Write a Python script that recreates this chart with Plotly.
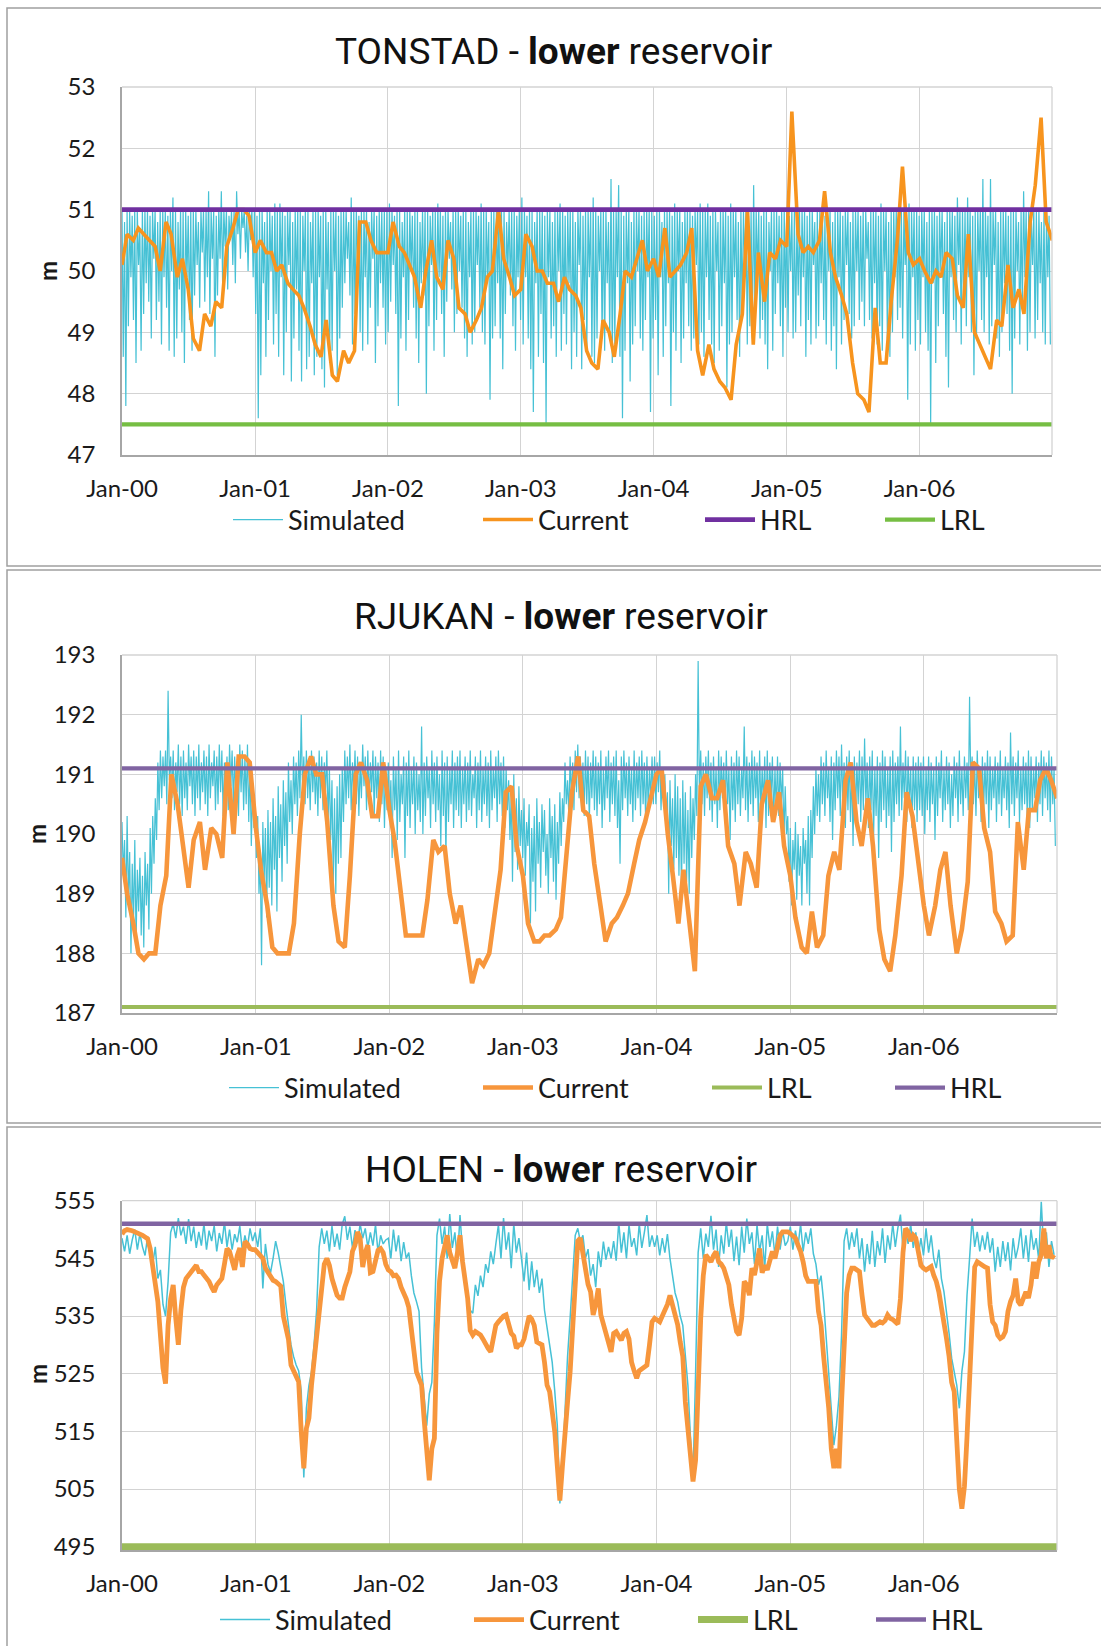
import pandas as pd
import plotly.graph_objects as go

W, H = 1101, 1646

# ------------------------------------------------------------------ data
tick_dates = ['2000-01-01', '2001-01-01', '2002-01-01', '2003-01-01',
              '2004-01-01', '2005-01-01', '2006-01-01']
tick_labels = ['Jan-00', 'Jan-01', 'Jan-02', 'Jan-03', 'Jan-04', 'Jan-05', 'Jan-06']

# TONSTAD - simulated level (m): weekly peak (start of week) and weekly trough (mid-week)
tonstad_sim_peak = [
    51.0, 50.8, 51.0, 51.0, 50.9, 51.0, 51.0, 50.7, 51.0, 51.0, 51.0, 50.9, 51.0, 51.0, 50.8, 51.0, 51.0, 51.0, 50.9, 51.0,
    51.2, 51.0, 50.8, 51.0, 51.0, 51.0, 50.9, 51.0, 51.0, 51.0, 50.8, 51.0, 51.0, 51.0, 51.3, 51.0, 51.0, 50.9, 51.0, 51.3,
    51.0, 51.0, 50.9, 51.0, 51.0, 51.3, 51.0, 51.0, 51.0, 50.9, 51.0, 51.0,
    51.0, 50.9, 51.0, 51.0, 50.8, 51.0, 51.0, 50.9, 51.1, 51.0, 51.1, 51.0, 50.9, 51.0, 51.0, 50.8, 51.0, 51.0, 51.0, 50.9,
    51.0, 51.0, 50.8, 51.0, 51.0, 51.0, 50.9, 51.0, 51.0, 50.8, 51.0, 51.0, 51.0, 50.9, 51.0, 51.0, 51.0, 50.8, 51.2, 51.0,
    51.0, 50.9, 51.0, 51.0, 51.0, 50.8, 51.0, 51.0, 50.9, 51.0, 51.0, 51.0,
    51.0, 51.1, 51.0, 50.9, 51.0, 51.0, 50.8, 51.0, 51.0, 51.0, 50.9, 51.0, 51.0, 50.8, 51.0, 51.0, 51.0, 50.9, 51.0, 51.0,
    51.1, 51.0, 50.9, 51.0, 51.0, 50.8, 51.0, 51.0, 51.0, 50.9, 51.0, 51.0, 50.8, 51.0, 51.0, 51.0, 50.9, 51.1, 51.0, 51.0,
    50.8, 51.0, 51.0, 51.0, 50.9, 51.0, 51.0, 50.8, 51.0, 51.0, 51.0, 50.9,
    51.0, 51.2, 51.0, 50.9, 51.0, 51.0, 50.8, 51.0, 51.0, 51.0, 50.9, 51.0, 51.0, 50.8, 51.0, 51.0, 51.1, 51.0, 50.9, 51.0,
    51.0, 51.0, 50.8, 51.0, 51.0, 50.9, 51.0, 51.0, 51.0, 51.2, 51.0, 50.9, 51.0, 51.0, 51.0, 50.8, 51.5, 51.0, 51.0, 51.4,
    51.0, 50.9, 51.0, 51.0, 50.8, 51.0, 51.0, 51.0, 50.9, 51.0, 51.0, 51.0,
    51.0, 50.9, 51.0, 51.0, 50.8, 51.0, 51.0, 51.0, 50.9, 51.1, 51.0, 51.0, 50.8, 51.0, 51.0, 51.0, 50.9, 51.0, 51.0, 51.1,
    51.0, 51.0, 51.1, 50.9, 51.0, 51.0, 50.8, 51.0, 51.0, 51.0, 50.9, 51.1, 51.0, 51.0, 50.8, 51.0, 51.0, 51.0, 50.9, 51.0,
    51.4, 51.0, 51.0, 50.9, 51.0, 51.0, 50.8, 51.0, 51.0, 51.0, 50.9, 51.0,
    51.0, 51.0, 50.9, 51.0, 51.0, 50.8, 51.0, 51.0, 51.0, 50.9, 51.0, 51.0, 50.8, 51.0, 51.0, 51.0, 50.9, 51.0, 51.0, 50.8,
    51.0, 51.0, 51.0, 50.9, 51.0, 51.0, 50.8, 51.0, 51.0, 51.0, 50.9, 51.0, 51.0, 50.8, 51.0, 51.0, 51.0, 50.9, 51.1, 51.0,
    51.0, 50.8, 51.0, 51.0, 51.0, 50.9, 51.0, 51.0, 50.8, 51.1, 51.0, 51.0,
    51.0, 50.9, 51.0, 51.0, 50.8, 51.0, 51.0, 51.0, 50.9, 51.0, 51.0, 50.8, 51.0, 51.0, 51.0, 50.9, 51.2, 51.0, 51.0, 51.0,
    51.2, 51.0, 50.9, 51.0, 51.0, 51.0, 51.5, 51.0, 50.9, 51.5, 51.0, 51.0, 50.8, 51.0, 51.0, 51.0, 50.9, 51.0, 51.0, 51.0,
    50.8, 51.0, 51.3, 51.0, 51.0, 50.9, 51.0, 51.0, 51.0, 50.8, 51.0, 51.0, 50.9,
]
tonstad_sim_trough = [
    48.6, 47.8, 49.1, 49.9, 49.2, 48.5, 50.1, 48.7, 49.3, 49.8, 49.5, 48.9, 50.2, 49.2, 49.5, 48.8, 49.9, 49.4, 48.7, 50.0,
    48.6, 48.9, 49.7, 49.0, 48.5, 49.9, 49.2, 48.7, 49.6, 50.1, 49.4, 50.3, 49.5, 49.9, 49.3, 50.2, 48.6, 49.6, 50.2, 49.8,
    50.4, 49.7, 50.5, 50.1, 49.8, 50.6, 50.2, 50.7, 50.3, 50.0, 50.5, 49.9,
    49.3, 47.6, 48.3, 49.8, 48.6, 49.2, 50.0, 48.8, 49.3, 48.6, 49.9, 48.3, 49.0, 50.1, 48.2, 48.9, 49.7, 48.7, 48.2, 50.0,
    48.4, 48.6, 49.8, 48.3, 48.6, 49.9, 48.4, 48.1, 49.7, 48.5, 48.7, 50.0, 48.3, 48.9, 49.4, 49.8, 50.2, 49.6, 48.8, 49.3,
    50.1, 49.0, 48.7, 49.9, 48.8, 49.4, 50.2, 48.5, 49.1, 49.8, 49.4, 48.8,
    49.0, 49.5, 50.1, 49.3, 47.8, 48.9, 49.9, 48.7, 49.2, 50.0, 49.4, 48.9, 48.5, 49.8, 49.6, 48.0, 49.1, 50.1, 48.7, 49.2,
    49.9, 49.3, 48.6, 49.5, 50.2, 49.7, 49.0, 49.3, 50.0, 49.4, 48.9, 48.6, 49.9, 48.8, 49.0, 50.1, 49.4, 49.0, 48.8, 49.9,
    47.9, 48.9, 49.1, 49.8, 48.9, 48.4, 49.3, 50.0, 49.6, 49.1, 48.7, 49.9,
    49.2, 48.8, 49.9, 48.9, 48.4, 47.7, 49.8, 48.6, 49.3, 48.5, 47.5, 49.9, 48.9, 49.1, 48.6, 50.0, 48.7, 49.3, 48.8, 49.8,
    48.4, 49.0, 48.6, 50.1, 48.4, 49.2, 48.7, 49.9, 48.6, 48.5, 48.9, 50.0, 48.9, 48.7, 49.8, 48.9, 48.5, 48.8, 49.9, 48.6,
    47.6, 48.7, 49.8, 48.2, 48.8, 49.1, 50.0, 48.9, 48.7, 49.2, 49.9, 47.7,
    48.9, 49.2, 48.3, 49.9, 48.6, 49.1, 49.8, 47.8, 49.0, 48.7, 50.0, 48.5, 48.9, 49.8, 49.1, 48.7, 48.9, 50.1, 48.8, 49.0,
    48.6, 49.9, 49.2, 48.8, 48.5, 50.0, 48.7, 49.1, 49.8, 48.1, 48.8, 49.0, 49.9, 49.2, 48.6, 49.3, 50.1, 48.8, 49.1, 48.9,
    49.4, 49.9, 48.9, 49.2, 48.8, 48.4, 50.0, 48.7, 49.3, 49.8, 49.1, 48.6,
    49.4, 49.0, 50.0, 48.9, 49.0, 49.6, 49.1, 49.9, 48.6, 49.2, 48.8, 50.1, 48.9, 49.1, 49.8, 49.2, 48.8, 50.0, 48.7, 49.1,
    48.4, 49.9, 48.8, 49.2, 50.1, 49.3, 48.9, 49.1, 50.0, 49.2, 49.5, 49.1, 50.2, 49.2, 48.9, 49.8, 48.8, 49.1, 48.7, 50.0,
    48.9, 48.6, 49.0, 49.9, 49.2, 49.4, 48.9, 50.1, 47.9, 48.8, 49.9, 48.7,
    49.2, 48.8, 49.9, 49.0, 48.7, 47.5, 49.8, 48.5, 49.1, 50.0, 49.3, 48.6, 48.1, 49.9, 49.2, 49.0, 50.1, 48.8, 49.5, 49.1,
    49.9, 49.0, 48.3, 48.9, 50.0, 49.2, 49.0, 49.9, 48.8, 49.1, 50.1, 48.9, 48.6, 49.0, 49.8, 49.3, 48.7, 48.0, 48.9, 50.0,
    48.8, 49.4, 49.9, 48.7, 49.0, 50.1, 48.9, 49.2, 49.8, 49.0, 48.8, 49.9, 48.8,
]
# TONSTAD - current operation, 1st and 15th of each month
tonstad_current = [
    50.1, 50.6, 50.5, 50.7, 50.6, 50.5, 50.4, 50.0, 50.8, 50.6, 49.9, 50.2, 49.7, 48.9, 48.7, 49.3, 49.1, 49.5, 49.4, 50.4, 50.7, 51.0, 51.0, 50.9,
    50.3, 50.5, 50.3, 50.3, 50.0, 50.1, 49.8, 49.7, 49.6, 49.4, 49.1, 48.8, 48.6, 49.2, 48.3, 48.2, 48.7, 48.5, 48.7, 50.8, 50.8, 50.5, 50.3, 50.3,
    50.3, 50.8, 50.4, 50.3, 50.1, 49.9, 49.4, 50.0, 50.5, 49.9, 49.7, 50.5, 50.2, 49.4, 49.3, 49.0, 49.2, 49.4, 49.9, 50.0, 51.0, 50.2, 49.9, 49.6,
    49.7, 50.6, 50.4, 50.0, 50.0, 49.8, 49.8, 49.5, 49.9, 49.7, 49.6, 49.4, 48.7, 48.5, 48.4, 49.2, 49.0, 48.6, 49.3, 50.0, 49.9, 50.2, 50.5, 50.0,
    50.2, 49.9, 50.7, 49.9, 50.0, 50.1, 50.3, 50.7, 48.7, 48.3, 48.8, 48.4, 48.2, 48.1, 47.9, 48.8, 49.3, 51.0, 48.8, 50.3, 49.5, 50.3, 50.2, 50.5,
    50.4, 52.6, 50.6, 50.3, 50.4, 50.3, 50.5, 51.3, 50.3, 49.9, 49.6, 49.3, 48.5, 48.0, 47.9, 47.7, 49.4, 48.5, 48.5, 49.5, 50.5, 51.7, 50.3, 50.1,
    50.2, 50.0, 49.8, 50.0, 49.9, 50.3, 50.2, 49.6, 49.4, 50.6, 49.0, 48.8, 48.6, 48.4, 49.2, 49.1, 50.1, 49.4, 49.7, 49.3, 50.8, 51.4, 52.5, 50.8,
    50.5,
]
tonstad_hrl = 51.0
tonstad_lrl = 47.5
tonstad_yticks = [47, 48, 49, 50, 51, 52, 53]

# RJUKAN - simulated level (m): weekly peak and weekly trough
rjukan_sim_peak = [
    190.2, 189.9, 190.3, 189.7, 189.5, 189.9, 189.4, 189.6, 189.3, 189.7, 189.5, 190.1, 190.3, 190.6, 191.2, 191.4, 191.3,
    191.4, 192.4, 191.3, 191.4, 191.2, 191.5, 191.3, 191.4, 191.2, 191.5, 191.3, 191.4, 191.3, 191.5, 191.2, 191.4, 191.3,
    191.5, 191.2, 191.4, 191.3, 191.5, 191.4, 191.2, 191.3, 191.5, 191.4, 191.3, 191.2, 191.5, 191.4, 191.3, 191.5, 191.2, 190.8,
    190.5, 190.3, 189.6, 190.2, 190.1, 190.4, 190.2, 190.6, 190.3, 190.8, 190.5, 190.9, 190.7, 191.2, 190.9, 191.3, 191.2,
    191.4, 192.0, 191.3, 191.4, 191.2, 191.4, 191.3, 191.2, 191.4, 191.3, 191.2, 191.4, 191.1, 190.9, 190.6, 190.8, 191.0,
    191.1, 191.4, 191.3, 191.5, 191.2, 191.4, 191.3, 191.2, 191.5, 191.3, 191.4, 191.2, 191.4, 191.3, 191.2, 191.4, 191.3, 191.1,
    191.2, 190.9, 191.3, 191.1, 191.4, 191.0, 191.3, 191.2, 191.4, 191.1, 191.3, 191.2, 191.0, 191.8, 191.2, 191.3, 191.1,
    191.4, 191.2, 191.3, 191.0, 191.4, 191.2, 191.3, 191.1, 191.4, 191.2, 191.3, 191.4, 191.1, 191.3, 191.2, 191.4, 191.0,
    191.3, 191.2, 191.4, 191.1, 191.3, 191.2, 191.4, 191.1, 191.3, 191.4, 191.2, 191.3, 191.1, 190.9, 190.7, 191.0, 190.6, 190.8,
    190.4, 190.6, 190.2, 190.5, 190.1, 190.3, 190.6, 190.2, 190.5, 190.4, 190.0, 190.6, 190.3, 190.5, 190.2, 190.7, 190.6,
    191.2, 190.9, 191.3, 191.2, 191.4, 191.5, 191.3, 191.2, 191.4, 191.3, 191.2, 191.4, 191.3, 191.2, 191.4, 191.1, 191.3,
    191.4, 191.2, 191.3, 191.4, 190.9, 191.3, 191.4, 191.2, 191.3, 191.1, 191.4, 191.2, 191.3, 191.4, 191.2, 191.3, 191.1, 191.3,
    191.3, 191.2, 191.4, 191.1, 191.0, 190.7, 190.9, 190.6, 191.0, 190.8, 190.6, 190.9, 190.7, 190.4, 190.8, 190.6, 191.0,
    192.9, 191.4, 191.2, 191.3, 191.4, 191.2, 191.3, 191.1, 191.4, 191.3, 191.2, 191.4, 191.1, 191.3, 191.2, 191.4, 191.3,
    191.1, 191.8, 191.3, 191.2, 191.4, 191.3, 191.2, 191.4, 191.1, 191.3, 191.4, 191.2, 191.3, 191.1, 191.3, 191.2, 191.1, 190.8,
    190.3, 190.1, 189.9, 190.2, 190.0, 189.8, 190.1, 189.9, 190.3, 190.4, 190.8, 191.1, 191.0, 191.3, 191.2, 191.4, 191.1,
    191.3, 191.2, 191.4, 191.3, 191.5, 191.2, 191.3, 191.4, 191.1, 191.3, 191.2, 191.4, 191.3, 191.6, 191.2, 191.3, 191.4,
    191.1, 191.3, 191.2, 191.4, 191.3, 191.1, 191.3, 191.4, 191.2, 191.3, 191.8, 191.2, 191.4, 191.3, 191.1, 191.3, 191.2, 191.3,
    191.2, 191.3, 191.1, 191.3, 191.2, 191.1, 191.3, 191.2, 191.4, 191.1, 191.3, 191.2, 191.0, 191.3, 191.2, 191.4, 191.1,
    191.3, 191.2, 192.3, 191.3, 191.2, 191.4, 191.1, 191.3, 191.2, 191.4, 191.3, 191.1, 191.3, 191.2, 191.4, 191.1, 191.3,
    191.2, 191.7, 191.3, 191.2, 191.4, 191.1, 191.3, 191.2, 191.4, 191.3, 191.1, 191.3, 191.2, 191.4, 191.3, 191.2, 191.4, 191.3, 191.1,
]
rjukan_sim_trough = [
    189.3, 188.6, 188.9, 188.0, 188.5, 188.2, 188.7, 188.3, 188.1, 188.8, 188.4, 189.0, 189.5, 189.9, 190.4, 190.6, 190.8,
    190.5, 190.9, 190.6, 190.4, 190.7, 190.5, 190.3, 190.6, 190.4, 190.8, 190.5, 190.3, 190.6, 190.4, 190.7, 190.5, 190.3,
    190.6, 190.8, 190.4, 190.5, 190.7, 190.3, 190.6, 190.4, 190.8, 190.5, 190.6, 190.3, 190.7, 190.4, 190.5, 190.2, 189.8, 190.1,
    189.6, 189.0, 187.8, 189.2, 188.6, 189.1, 188.8, 189.4, 188.7, 189.6, 189.2, 189.8, 189.5, 190.2, 190.0, 190.5, 190.3,
    190.6, 190.7, 190.5, 190.6, 190.4, 190.7, 190.5, 190.3, 190.6, 190.4, 190.7, 190.2, 189.9, 189.2, 189.0, 189.5, 189.6,
    190.2, 190.5, 190.6, 190.4, 190.7, 190.5, 190.3, 190.6, 190.8, 190.4, 190.5, 190.7, 190.3, 190.6, 190.2, 190.5, 190.1, 190.4,
    190.3, 189.6, 190.4, 189.9, 190.2, 190.5, 189.6, 190.3, 190.1, 190.5, 190.0, 190.4, 190.2, 190.0, 190.3, 190.6, 190.1,
    190.5, 190.2, 190.4, 189.8, 190.3, 189.6, 190.2, 190.5, 190.1, 190.4, 190.3, 190.1, 190.5, 190.2, 190.4, 190.3, 190.6,
    190.1, 190.4, 190.2, 190.5, 190.3, 190.1, 190.4, 190.6, 190.2, 190.5, 190.3, 190.1, 190.4, 189.9, 189.2, 189.7, 189.4, 189.8,
    189.6, 189.3, 189.8, 188.5, 189.2, 188.7, 189.5, 189.1, 189.7, 189.3, 189.0, 189.6, 189.2, 188.9, 189.5, 189.8, 190.2,
    190.5, 190.3, 190.6, 190.4, 190.7, 190.6, 190.4, 190.3, 190.5, 190.2, 190.6, 190.4, 190.3, 190.5, 190.1, 190.4, 190.6,
    190.2, 190.5, 190.3, 190.1, 189.5, 190.4, 190.6, 190.3, 190.5, 190.2, 190.4, 190.6, 190.3, 190.5, 190.2, 190.4, 190.6, 190.5,
    190.5, 190.7, 190.4, 190.6, 190.2, 189.0, 189.8, 189.4, 189.6, 189.3, 189.0, 189.5, 189.2, 189.0, 189.6, 189.9, 190.3,
    190.6, 190.5, 190.3, 190.6, 190.4, 190.2, 190.5, 190.1, 190.4, 190.6, 190.3, 190.5, 189.9, 190.4, 190.2, 190.5, 190.3,
    190.6, 190.4, 190.2, 190.5, 190.3, 190.6, 190.2, 190.4, 190.5, 190.1, 190.3, 190.6, 190.2, 190.4, 190.3, 190.5, 189.9, 190.0,
    189.2, 188.8, 189.4, 188.9, 189.3, 188.8, 189.5, 189.0, 188.8, 189.6, 190.0, 190.3, 190.2, 190.5, 190.3, 190.6, 190.2,
    189.9, 190.4, 190.6, 190.3, 190.5, 190.1, 190.4, 190.2, 189.8, 190.3, 190.5, 190.2, 190.4, 190.5, 190.1, 190.4, 189.9,
    190.3, 189.6, 190.2, 190.4, 190.1, 190.3, 189.7, 190.2, 190.5, 190.3, 190.4, 190.6, 190.2, 190.5, 190.1, 190.4, 190.2, 190.4,
    190.3, 190.0, 190.4, 190.2, 190.5, 189.9, 190.3, 190.6, 190.2, 190.4, 190.5, 190.1, 190.3, 190.6, 190.2, 190.5, 190.3,
    190.6, 190.4, 190.8, 190.5, 190.3, 190.6, 190.2, 190.4, 190.5, 190.1, 190.4, 190.6, 190.2, 190.5, 190.3, 190.6, 190.4,
    190.1, 190.5, 190.3, 190.6, 190.2, 190.4, 190.5, 190.3, 190.1, 190.4, 190.6, 190.2, 190.5, 190.3, 190.6, 190.4, 190.2, 190.5, 189.8,
]
# RJUKAN - current operation, 1st and 15th of each month
rjukan_current = [
    189.6, 189.0, 188.5, 188.0, 187.9, 188.0, 188.0, 188.8, 189.3, 191.0, 190.5, 189.9, 189.1, 189.9, 190.2, 189.4, 190.1, 190.0, 189.6, 191.2, 190.0, 191.3, 191.3, 191.2,
    190.1, 189.4, 188.8, 188.1, 188.0, 188.0, 188.0, 188.5, 190.0, 191.0, 191.3, 191.0, 191.0, 190.2, 188.8, 188.2, 188.1, 189.3, 191.0, 191.2, 190.9, 190.3, 190.3, 191.2,
    190.4, 189.9, 189.0, 188.3, 188.3, 188.3, 188.3, 188.9, 189.9, 189.7, 189.8, 189.0, 188.5, 188.8, 188.1, 187.5, 187.9, 187.8, 188.0, 188.6, 189.4, 190.7, 190.8, 189.8,
    189.3, 188.5, 188.2, 188.2, 188.3, 188.3, 188.4, 188.6, 189.8, 190.7, 191.3, 190.4, 190.3, 189.5, 188.8, 188.2, 188.5, 188.6, 188.8, 189.0, 189.5, 189.9, 190.2, 190.6,
    191.0, 191.1, 190.0, 189.3, 188.5, 189.4, 188.5, 187.7, 190.8, 191.0, 190.6, 190.6, 190.9, 189.8, 189.5, 188.8, 189.7, 189.5, 189.1, 190.5, 190.9, 190.2, 190.7, 189.8,
    189.3, 188.6, 188.1, 188.0, 188.7, 188.1, 188.3, 189.3, 189.7, 189.4, 190.9, 191.2, 190.2, 189.8, 190.6, 189.8, 188.4, 187.9, 187.7, 188.3, 189.3, 190.7, 190.3, 189.6,
    188.8, 188.3, 188.8, 189.4, 189.7, 188.8, 188.0, 188.4, 189.2, 191.2, 191.1, 190.1, 189.7, 188.7, 188.5, 188.2, 188.3, 190.2, 189.4, 190.4, 190.4, 190.9, 191.1, 190.9,
    190.6,
]
rjukan_hrl = 191.1
rjukan_lrl = 187.1
rjukan_yticks = [187, 188, 189, 190, 191, 192, 193]

# HOLEN - weekly simulated level (m)
holen_simulated = [
    548.5, 546.2, 549.0, 545.8, 548.2, 550.0, 546.5, 549.3, 547.0, 545.5, 548.8, 546.0,
    544.0, 547.0, 541.5, 543.0, 537.0, 535.0,
    541.0, 549.5, 551.0, 548.5, 552.0, 549.0, 550.5, 547.5,
    551.8, 548.0, 550.5, 546.8, 549.6, 547.2, 551.0, 546.5, 549.8, 548.0, 550.7, 546.2, 549.4,
    547.5, 551.3, 547.0, 550.0, 546.5, 549.2, 547.8, 550.6, 546.4, 549.0, 547.0, 550.2, 548.0,
    549.5, 547.0, 550.2, 539.8, 547.5, 544.0, 542.5, 545.0, 548.0, 546.0, 543.5,
    541.0, 537.0, 533.5, 530.0, 528.0, 526.5, 525.5,
    522.0, 507.0, 519.0, 523.0, 525.3, 530.0, 536.0, 547.0,
    550.2, 547.5, 549.8, 546.2, 550.6, 547.0, 549.3, 546.5, 550.9, 552.3, 548.2, 550.5, 546.8,
    549.9, 547.6, 551.0, 548.5, 550.2, 546.9, 549.5, 547.2, 550.8, 546.0, 549.0, 547.5, 548.2,
    548.5, 545.0, 550.0, 546.2, 549.0, 544.5, 547.8, 545.0, 546.0,
    542.0, 539.0, 537.5, 535.8, 526.0, 521.0, 516.0, 521.5, 523.5, 534.0,
    549.0, 551.9, 547.5, 550.5, 545.0, 552.7, 546.8, 549.5, 544.4, 552.5, 546.0,
    541.5, 538.0, 536.0, 535.5,
    540.4, 538.5, 542.0, 540.0, 544.0, 542.5, 546.2, 544.0, 547.5,
    550.8, 545.0, 552.0, 546.5, 549.5, 543.3, 551.0, 546.0, 548.5,
    545.0, 541.0, 546.0, 539.5, 544.5, 540.0, 543.0,
    539.0, 541.5, 536.0, 533.0, 530.0, 527.0, 522.0, 516.0,
    502.5, 509.0, 518.4, 528.0, 534.6, 542.0, 549.0,
    550.2, 547.9, 549.0, 545.0, 546.6, 542.0, 544.0, 540.0,
    546.2, 543.5, 547.9, 544.8, 547.0, 545.0, 548.0, 544.6,
    551.3, 546.0, 549.5, 545.0, 550.8, 547.0, 548.5, 545.5, 551.0, 546.8, 549.5, 552.5, 547.0, 549.0,
    547.0, 549.0, 545.5, 548.5, 546.0, 549.2, 545.0, 542.1,
    539.0, 537.5, 535.0, 533.4, 528.0, 523.0, 514.0, 506.9, 525.0,
    546.0, 550.2, 545.0, 549.3, 547.0, 552.4, 546.5, 550.0, 543.5, 549.0, 545.8, 551.3, 547.0, 550.0, 544.5, 548.8,
    543.8, 550.5, 546.0, 551.9, 547.5, 549.5, 544.0, 550.8, 546.2, 549.0, 543.3, 551.0, 547.0, 549.7, 545.5, 550.5,
    546.5, 549.8, 547.2,
    548.0, 550.5, 546.5, 549.8, 547.0, 551.0, 546.2, 549.5, 547.5, 550.2, 545.8,
    544.0, 540.4, 542.0, 537.5, 531.1, 524.0, 517.3, 512.6, 516.0, 521.0, 531.7,
    548.0, 550.2, 546.5, 549.5, 547.0, 550.2, 545.0, 548.5, 542.7, 547.5, 544.0, 549.8, 543.5, 548.0, 545.5,
    550.2, 544.2, 549.0, 546.5, 551.0, 547.0, 550.3, 552.6, 546.5, 549.8, 547.5, 551.0, 546.8, 549.5, 545.5,
    548.5, 545.5, 550.2, 546.0, 549.0, 545.0, 543.3, 546.5, 541.5, 539.2,
    536.0, 532.0, 527.7, 525.4, 523.0, 519.0, 525.4, 528.8, 538.6, 545.0,
    551.9, 547.0, 549.6, 546.2, 549.0, 546.5, 549.6, 546.0, 548.5, 542.7, 547.0, 543.5, 548.0, 544.5, 547.8,
    542.9, 548.5, 545.0, 547.0,
    550.2, 545.0, 549.0, 544.4, 550.0, 546.5, 548.5, 544.8, 554.8, 546.0, 549.5, 543.5, 548.0, 545.6,
]
# HOLEN - weekly current operation
holen_current = [
    549.2, 549.8, 550.0, 550.0, 549.8, 549.6, 549.5, 549.2, 549.0, 548.7, 548.4, 546.7, 544.0, 540.5, 537.5, 531.7,
    526.0, 523.3, 533.4, 538.0, 540.4, 534.6, 530.0, 536.0, 540.0, 541.5, 542.1, 542.7, 543.3, 543.8, 542.7, 542.7,
    542.1, 541.5, 541.0, 540.0, 539.2, 540.4, 541.0, 541.5, 544.0, 546.7, 546.2, 544.4, 543.0, 545.5, 546.8, 543.5,
    547.9, 547.5, 546.7, 546.5,
    546.5, 546.0, 545.5, 545.0, 543.3, 542.5, 541.8, 541.2, 541.0, 540.6, 540.2, 535.0, 532.5, 531.0, 526.5, 525.5,
    524.8, 523.6, 515.0, 508.6, 515.5, 517.3, 523.0, 527.0, 530.5, 535.8, 540.0, 544.0, 545.0, 543.8, 541.5, 540.0,
    538.6, 538.1, 538.1, 540.0, 541.5, 542.7, 546.2, 547.3, 549.6, 548.5, 543.5, 546.0, 547.3, 542.5, 542.7, 544.5,
    546.4, 546.7, 546.0, 544.0,
    543.0, 542.7, 542.0, 542.1, 541.5, 540.0, 539.2, 538.0, 536.5, 533.4, 529.0, 525.3, 524.2, 523.0, 517.0, 511.0,
    506.5, 512.0, 513.8, 532.0, 541.0, 545.0, 546.7, 549.0, 546.0, 544.5, 543.3, 546.0, 549.0, 544.4, 541.5, 538.0,
    532.5, 531.7, 532.3, 532.0, 531.7, 531.0, 530.0, 529.4, 528.8, 531.0, 533.4, 534.0, 534.6, 535.0, 535.2, 533.5,
    532.0, 531.5, 529.4, 530.0,
    530.0, 531.0, 533.0, 535.0, 534.5, 533.4, 530.5, 530.2, 530.0, 527.0, 523.0, 521.9, 519.0, 515.0, 509.0, 503.0,
    509.0, 516.0, 520.1, 525.3, 532.0, 540.0, 548.0, 548.5, 546.0, 543.0, 540.5, 539.2, 535.2, 537.0, 539.8, 535.2,
    533.5, 532.5, 530.5, 528.8, 532.0, 532.3, 531.5, 530.8, 532.0, 532.3, 531.0, 527.0, 525.5, 524.2, 525.5, 525.9,
    526.2, 526.5, 530.0, 534.0,
    534.6, 534.3, 534.0, 535.0, 535.8, 537.0, 538.6, 537.0, 535.8, 533.5, 530.5, 528.0, 520.1, 515.5, 511.5, 506.3,
    510.0, 523.0, 534.6, 542.0, 545.6, 545.0, 544.4, 545.5, 546.2, 544.4, 544.0, 543.3, 542.0, 540.4, 537.0, 534.6,
    532.3, 531.7, 534.6, 541.0, 540.4, 538.6, 543.3, 542.1, 545.0, 546.7, 542.5, 543.8, 543.0, 544.5, 546.2, 545.0,
    547.0, 549.0, 549.6, 549.6,
    549.6, 549.3, 549.0, 548.5, 547.3, 546.2, 544.4, 542.0, 541.0, 541.0, 541.0, 541.0, 535.8, 533.4, 528.0, 524.0,
    519.0, 512.0, 508.6, 512.0, 508.6, 520.0, 531.7, 539.0, 542.1, 543.3, 543.3, 543.0, 542.7, 538.6, 535.2, 534.6,
    534.0, 533.4, 533.4, 533.6, 534.0, 533.8, 534.2, 535.2, 534.6, 534.4, 534.0, 533.6, 538.0, 546.0, 550.2, 549.6,
    548.0, 549.0, 548.5, 545.6,
    543.8, 543.3, 543.0, 543.3, 543.6, 542.1, 541.0, 539.2, 536.0, 533.4, 531.1, 528.0, 523.5, 521.9, 514.4, 505.0,
    501.6, 505.5, 514.0, 524.0, 534.0, 543.5, 544.4, 544.2, 543.8, 543.5, 543.3, 537.0, 534.0, 533.4, 531.7, 531.1,
    531.4, 532.3, 535.8, 537.5, 538.6, 541.5, 537.5, 536.9, 538.1, 539.2, 538.1, 540.4, 544.4, 541.5, 544.4, 545.6,
    550.2, 545.0, 547.3, 545.0, 545.6,
]
holen_hrl = 551.0
holen_lrl = 495.0
holen_yticks = [495, 505, 515, 525, 535, 545, 555]

# ------------------------------------------------------------------ styles / layout
CYAN = '#46C1D5'
GRID = '#D3D3D3'
AXIS = '#A6A6A6'
FRAME = '#A0A0A0'
TITLE_FONT = 'Roboto, sans-serif'
TEXT_FONT = 'Lato, sans-serif'


def weekly(vals):
    return pd.date_range('2000-01-01', periods=len(vals), freq='7D')


def semimonthly(vals):
    return pd.date_range('2000-01-01', periods=len(vals), freq='SMS')


def peak_trough(peaks, troughs):
    n = min(len(peaks), len(troughs))
    weeks = pd.date_range('2000-01-01', periods=n, freq='7D')
    xs, ys = [], []
    for i in range(n):
        xs += [weeks[i], weeks[i] + pd.Timedelta(hours=84)]
        ys += [peaks[i], troughs[i]]
    return xs, ys


def px(xp):
    return xp / W


def py(yp):
    return 1 - yp / H


tonstad_sim_x, tonstad_sim_y = peak_trough(tonstad_sim_peak, tonstad_sim_trough)
rjukan_sim_x, rjukan_sim_y = peak_trough(rjukan_sim_peak, rjukan_sim_trough)

panels = [
    dict(name='TONSTAD', sim=tonstad_sim_y, sim_x=tonstad_sim_x, sim_w=1.2,
         cur=tonstad_current, cur_x=semimonthly(tonstad_current),
         hrl=tonstad_hrl, lrl=tonstad_lrl, yticks=tonstad_yticks,
         yrange=[47, 53], xdom=[122, 1052], ydom=[87, 455],
         orange='#F7941E', orange_w=3.6, purple='#7030A0', purple_w=4.8, green='#76BE43', green_w=4.2,
         order=['sim', 'cur', 'hrl', 'lrl'], leg_x=[233, 483, 705, 885], leg_y=520,
         title_xy=(553, 52), m_xy=(47, 271)),
    dict(name='RJUKAN', sim=rjukan_sim_y, sim_x=rjukan_sim_x, sim_w=1.2,
         cur=rjukan_current, cur_x=semimonthly(rjukan_current),
         hrl=rjukan_hrl, lrl=rjukan_lrl, yticks=rjukan_yticks,
         yrange=[187, 193], xdom=[122, 1057], ydom=[655, 1013],
         orange='#F7963C', orange_w=4.6, purple='#8064A2', purple_w=4.3, green='#9BBB59', green_w=4.0,
         order=['sim', 'cur', 'lrl', 'hrl'], leg_x=[229, 483, 712, 895], leg_y=1088,
         title_xy=(561, 616), m_xy=(37, 834)),
    dict(name='HOLEN', sim=holen_simulated, sim_x=weekly(holen_simulated), sim_w=1.5,
         cur=holen_current, cur_x=weekly(holen_current),
         hrl=holen_hrl, lrl=holen_lrl, yticks=holen_yticks,
         yrange=[494.4, 555], xdom=[122, 1057], ydom=[1200.7, 1550.2],
         orange='#F7963C', orange_w=4.8, purple='#8064A2', purple_w=4.5, green='#9BBB59', green_w=7.0,
         order=['sim', 'cur', 'lrl', 'hrl'], leg_x=[220, 474, 698, 876], leg_y=1620,
         title_xy=(561, 1169), m_xy=(37, 1374)),
]

fig = go.Figure()
layout = dict(width=W, height=H, margin=dict(l=0, r=0, t=0, b=0, autoexpand=False),
              paper_bgcolor='white', plot_bgcolor='white', showlegend=True)
shapes = []
annotations = []
line_ends = ['2000-01-01', '2006-12-31']
leg_n = 0

frames = [(8, 566), (570, 1123), (1127, 1660)]
for (t, b) in frames:
    shapes.append(dict(type='rect', xref='paper', yref='paper', x0=px(7), x1=px(1108),
                       y0=py(b), y1=py(t), line=dict(color=FRAME, width=1.5), fillcolor='rgba(0,0,0,0)',
                       layer='below'))

for i, p in enumerate(panels):
    k = '' if i == 0 else str(i + 1)
    xa, ya = 'x' + k, 'y' + k
    layout['xaxis' + k] = dict(
        domain=[px(p['xdom'][0]), px(p['xdom'][1])], anchor=ya, type='date',
        range=['2000-01-01', '2006-12-31'], tickvals=tick_dates, ticktext=tick_labels,
        showgrid=True, gridcolor=GRID, gridwidth=1.3, showline=True, linecolor=AXIS, linewidth=1.5,
        ticks='', ticklabelstandoff=11, zeroline=False, automargin=False,
        tickfont=dict(family=TEXT_FONT, size=24, color='#1a1a1a'))
    layout['yaxis' + k] = dict(
        domain=[py(p['ydom'][1]), py(p['ydom'][0])], anchor=xa, range=p['yrange'],
        tickvals=p['yticks'], showgrid=True, gridcolor=GRID, gridwidth=1.3,
        showline=True, linecolor=AXIS, linewidth=1.5, ticks='', ticklabelstandoff=20, zeroline=False,
        automargin=False, tickfont=dict(family=TEXT_FONT, size=24, color='#1a1a1a'))
    # top and right plot-area edges
    shapes.append(dict(type='line', xref=xa + ' domain', yref=ya + ' domain', x0=1, x1=1, y0=0, y1=1,
                       line=dict(color=GRID, width=1.3)))
    shapes.append(dict(type='line', xref=xa + ' domain', yref=ya + ' domain', x0=0, x1=1, y0=1, y1=1,
                       line=dict(color=GRID, width=1.3)))

    series = {
        'sim': dict(x=p['sim_x'], y=p['sim'], name='Simulated', line=dict(color=CYAN, width=p['sim_w'])),
        'cur': dict(x=p['cur_x'], y=p['cur'], name='Current', line=dict(color=p['orange'], width=p['orange_w'])),
        'hrl': dict(x=line_ends, y=[p['hrl'], p['hrl']], name='HRL', line=dict(color=p['purple'], width=p['purple_w'])),
        'lrl': dict(x=line_ends, y=[p['lrl'], p['lrl']], name='LRL', line=dict(color=p['green'], width=p['green_w'])),
    }
    for j, key in enumerate(p['order']):
        leg_n += 1
        lk = 'legend' if leg_n == 1 else 'legend%d' % leg_n
        fig.add_trace(go.Scatter(mode='lines', xaxis=xa, yaxis=ya, legend=lk, hoverinfo='skip',
                                 **series[key]))
        layout[lk] = dict(x=px(p['leg_x'][j] - 5), y=py(p['leg_y']), xanchor='left', yanchor='middle',
                          orientation='h', bgcolor='rgba(0,0,0,0)', borderwidth=0, itemwidth=50,
                          font=dict(family=TEXT_FONT, size=27, color='#1a1a1a'))

    tx, ty = p['title_xy']
    annotations.append(dict(xref='paper', yref='paper', x=px(tx), y=py(ty), xanchor='center', yanchor='middle',
                            showarrow=False, text=p['name'] + ' - <b>lower</b> reservoir',
                            font=dict(family=TITLE_FONT, size=37, color='#111111')))
    mx, my = p['m_xy']
    annotations.append(dict(xref='paper', yref='paper', x=px(mx), y=py(my), xanchor='center', yanchor='middle',
                            showarrow=False, text='<b>m</b>', textangle=-90,
                            font=dict(family=TEXT_FONT, size=24, color='#1a1a1a')))

layout['shapes'] = shapes
layout['annotations'] = annotations
fig.update_layout(**layout)
fig.write_html('out.html')
